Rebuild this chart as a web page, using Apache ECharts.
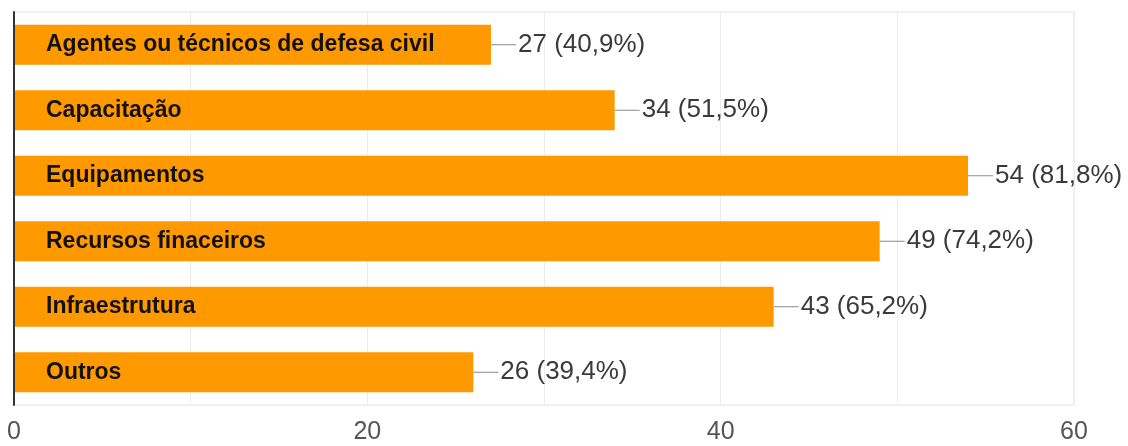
<!DOCTYPE html>
<html>
<head>
<meta charset="utf-8">
<script src="https://cdn.jsdelivr.net/npm/echarts@6/dist/echarts.min.js"></script>
<style>
  html, body { margin: 0; padding: 0; background: #ffffff; }
  #chart { width: 1128px; height: 446px; }
</style>
</head>
<body>
<div id="chart"></div>
<script>
// Categories, top to bottom
const categories = [
  'Agentes ou técnicos de defesa civil',
  'Capacitação',
  'Equipamentos',
  'Recursos finaceiros',
  'Infraestrutura',
  'Outros'
];
// Number of responses per category
const counts = [27, 34, 54, 49, 43, 26];
// Share of respondents, as printed next to each bar
const shares = ['40,9%', '51,5%', '81,8%', '74,2%', '65,2%', '39,4%'];
// Value-axis ticks carrying a label
const labelledTicks = [0, 20, 40, 60];

const FONT = '"Liberation Sans", Arial, sans-serif';
const chart = echarts.init(document.getElementById('chart'), null, { renderer: 'canvas' });

chart.setOption({
  animation: false,
  backgroundColor: '#ffffff',
  grid: {
    left: 14, right: 54, top: 12, bottom: 41,
    show: true, borderColor: '#e4e4e4', borderWidth: 1, backgroundColor: 'transparent'
  },
  xAxis: {
    type: 'value', min: 0, max: 60, interval: 10,
    axisLine: { show: false },
    axisTick: { show: false },
    splitLine: { show: true, lineStyle: { color: '#ececec', width: 1 } },
    axisLabel: {
      margin: 15,
      fontFamily: FONT, fontSize: 25, color: '#555555',
      formatter: v => (labelledTicks.includes(v) ? String(v) : '')
    }
  },
  yAxis: {
    type: 'category', inverse: true, data: categories,
    z: 5,
    axisLine: { show: true, lineStyle: { color: '#333333', width: 2 } },
    axisTick: { show: false },
    axisLabel: { show: false },
    splitLine: { show: false }
  },
  series: [
    {
      name: 'respostas',
      type: 'bar',
      data: counts,
      barWidth: 40,
      itemStyle: { color: '#ff9900' },
      label: {
        show: true,
        position: 'right',
        distance: 0,
        formatter: p => '{l|}{v|' + counts[p.dataIndex] + ' (' + shares[p.dataIndex] + ')}',
        rich: {
          l: { width: 25, height: 1, backgroundColor: '#8a8a8a', verticalAlign: 'middle' },
          v: { fontFamily: FONT, fontSize: 26, color: '#3a3a3a', padding: [0, 0, 0, 2], verticalAlign: 'middle' }
        }
      },
      z: 2
    },
    {
      name: 'categorias',
      type: 'bar',
      data: counts,
      barWidth: 40,
      barGap: '-100%',
      itemStyle: { color: 'transparent' },
      silent: true,
      label: {
        show: true,
        position: [32, '50%'],
        align: 'left',
        verticalAlign: 'middle',
        formatter: p => categories[p.dataIndex],
        fontFamily: FONT, fontSize: 23, fontWeight: 'bold', color: '#111111'
      },
      z: 3
    }
  ]
});
</script>
</body>
</html>
